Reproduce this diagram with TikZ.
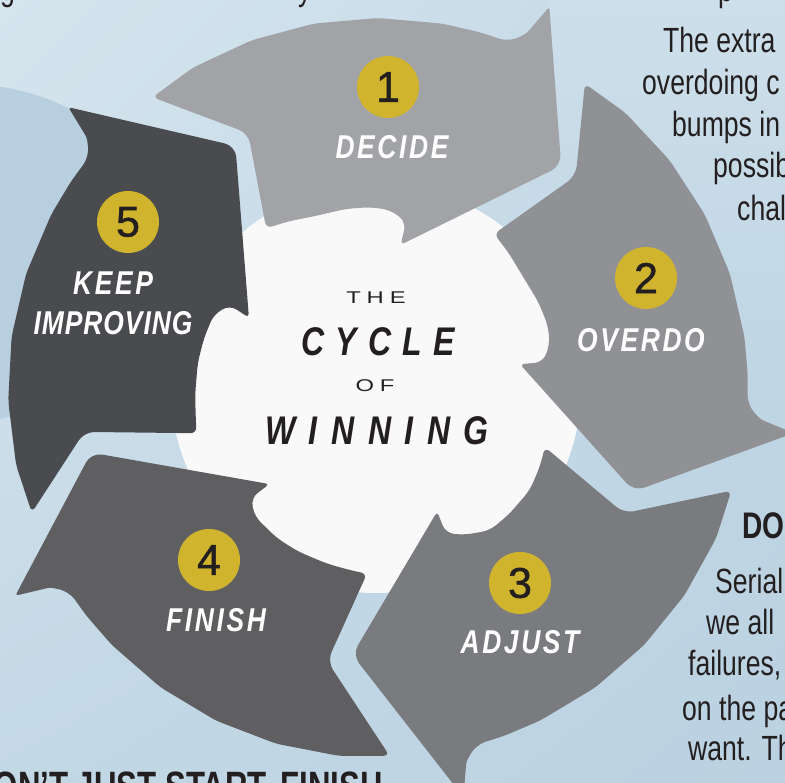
\documentclass[tikz,border=0pt]{standalone}
\usepackage{fontspec}
\usetikzlibrary{shadings}
\setmainfont{Liberation Sans}
\newfontfamily\condf[FakeStretch=0.76]{Liberation Sans}
\newfontfamily\labf[FakeStretch=0.8,LetterSpace=8]{Liberation Sans}
\newfontfamily\titf[FakeStretch=0.8,LetterSpace=32]{Liberation Sans}
\newfontfamily\thinf[FakeStretch=1.4,LetterSpace=35]{Liberation Sans}
\newfontfamily\numf[FakeBold=1.2]{Liberation Sans}
\definecolor{bgTL}{HTML}{D5E5EE}
\definecolor{bgTR}{HTML}{C4D9E6}
\definecolor{bgBL}{HTML}{C3D8E5}
\definecolor{bgBR}{HTML}{BAD1E1}
\definecolor{bgdark}{HTML}{B8CFDF}
\definecolor{panTop}{HTML}{CDDFEA}
\definecolor{panBot}{HTML}{BED5E3}
\definecolor{segA}{HTML}{A2A3A7}
\definecolor{segB}{HTML}{909195}
\definecolor{segC}{HTML}{7A7B7F}
\definecolor{segD}{HTML}{5F5F62}
\definecolor{segE}{HTML}{4A4B4E}
\definecolor{gold}{HTML}{D0B42D}
\definecolor{ink}{HTML}{231F20}
\definecolor{centerwhite}{HTML}{F9F9F9}
% #1,#2 tip angle/radius; #3,#4 inner barb; #5,#6 trailing inner point; #7,#8 notch
\newcommand\mysegpath[8]{[rounded corners=6pt] (127.8:368)
 -- (120:370) -- (110:370) -- (100:370) -- (90:370) -- (80:370) -- (74:370)
 [rounded corners=10pt] -- (69.3:370)
 [rounded corners=3pt] -- (67.3:384)
 -- (65.8:418)
 [rounded corners=11pt] -- (#1:#2)
 [rounded corners=4pt] -- (#3:#4)
 [rounded corners=8pt] -- ({#3-0.6}:{#4+23}) -- ({#3+4.6}:{#4+33}) -- (92:181) -- (100:182) -- (110:183) -- (118:{(#6+183)/2})
 [rounded corners=6pt] -- (#5:#6)
 [rounded corners=10pt] -- (#7:#8)
 [rounded corners=6pt] -- cycle}
\tikzset{
  numc/.style={circle, fill=gold, minimum size=62pt, inner sep=0pt, text=ink,
    font=\numf\fontsize{43}{43}\selectfont},
  lab/.style={anchor=base, inner sep=0pt, text=white,
    font=\labf\bfseries\itshape\fontsize{33}{33}\selectfont},
  bigtitle/.style={anchor=base, inner sep=0pt, text=ink,
    font=\titf\bfseries\itshape\fontsize{40}{40}\selectfont},
  smalltitle/.style={anchor=base, inner sep=0pt, text=ink,
    font=\thinf\fontsize{17}{17}\selectfont},
  sidetxt/.style={anchor=base west, inner sep=0pt, text=ink,
    font=\condf\fontsize{35}{42}\selectfont},
  sidehead/.style={anchor=base west, inner sep=0pt, text=ink,
    font=\condf\bfseries\fontsize{35}{42}\selectfont}
}
\begin{document}
\begin{tikzpicture}[x=1pt,y=1pt]
\useasboundingbox (0,0) rectangle (785,-783);
\clip (0,0) rectangle (785,-783);
% background
\shade[upper left=bgTL, upper right=bgTR, lower left=bgBL, lower right=bgBR] (0,0) rectangle (785,-783);
\shade[top color=panTop, bottom color=panBot] (548,5) rectangle (790,-420);
\fill[bgdark] (-5,-86) .. controls (25,-90) and (50,-98) .. (75,-112) -- (90,-140) -- (40,-410) -- (-5,-420) -- cycle;
% centre disc
\fill[centerwhite] (376,-388) circle[radius=205];
% the five arrows
\foreach \k/\segcol/\ta/\tr/\ia/\ir/\qa/\qr/\na/\nr in {
   0/segA/50.5/288/81.0/145/125.0/195/117.0/286,
   1/segB/50.0/276/81.5/144/125.0/193/119.0/290,
   2/segC/48.5/268/79.6/137/124.5/177/117.0/276,
   3/segD/48.7/294/77.5/145/122.6/186/115.5/278,
   4/segE/48.5/281/79.4/147/122.0/187/116.5/297}{
  \begin{scope}[shift={(378,-388)},rotate=-72*\k]
    \fill[\segcol] \mysegpath{\ta}{\tr}{\ia}{\ir}{\qa}{\qr}{\na}{\nr};
  \end{scope}
}
% numbers
\node[numc] (n1) at (388,-87) {1};
\node[numc] (n2) at (646,-278) {2};
\node[numc] (n3) at (520,-583) {3};
\node[numc] (n4) at (209,-560) {4};
\node[numc] (n5) at (128,-222) {5};
% labels
\node[lab] (l1) at (392,-159) {DECIDE};
\node[lab] (l2) at (641,-352) {OVERDO};
\node[lab] (l3) at (520,-653) {ADJUST};
\node[lab] (l4) at (216,-631) {FINISH};
\node[lab] (l5a) at (113,-295) {KEEP};
\node[lab] (l5b) at (113,-335) {\addfontfeature{LetterSpace=3}IMPROVING};
% title
\node[smalltitle] (t1) at (376,-304) {THE};
\node[bigtitle] (t2) at (378,-356) {\addfontfeature{LetterSpace=28}CYCLE};
\node[smalltitle] (t3) at (375,-392) {OF};
\node[bigtitle] (t4) at (377,-445) {\addfontfeature{LetterSpace=34}WINNING};
% side text, top right
\node[sidetxt] (r0) at (718,-2) {p};
\node[sidetxt] (r1) at (663,-53) {The extra};
\node[sidetxt] (r2) at (642,-95) {overdoing c};
\node[sidetxt] (r3) at (672,-137) {bumps in};
\node[sidetxt] (r4) at (713,-178) {possib};
\node[sidetxt] (r5) at (737,-221) {chal};
% top left fragments
\node[sidetxt] (f1) at (0,-1) {g};
\node[sidetxt] (f2) at (298,-1) {y};
% side text, bottom right
\node[sidehead, font=\condf\bfseries\fontsize{37}{42}\selectfont] (h1) at (742,-538) {DO};
\node[sidetxt] (s1) at (715,-593) {Serial};
\node[sidetxt] (s2) at (706,-634) {we all};
\node[sidetxt] (s3) at (688,-675) {failures,};
\node[sidetxt] (s4) at (682,-720) {on the pa};
\node[sidetxt] (s5) at (688,-760) {want. Th};
% bottom heading
\node[sidehead, anchor=base east, font=\condf\bfseries\fontsize{41}{41}\selectfont] (h2) at (383,-800) {ON’T JUST START. FINISH};
\end{tikzpicture}
\end{document}
